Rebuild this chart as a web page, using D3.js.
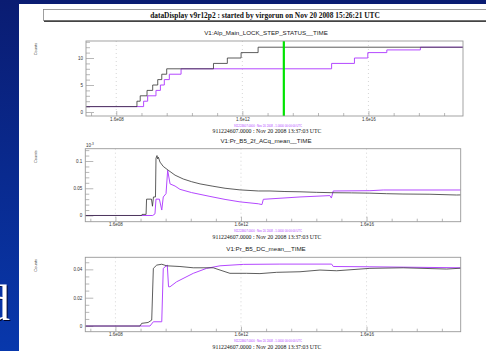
<!DOCTYPE html>
<html>
<head>
<meta charset="utf-8">
<script src="https://cdn.jsdelivr.net/npm/d3@7"></script>
<style>
  body { margin: 0; overflow: hidden; background: #fff; }
  svg { display: block; }
</style>
</head>
<body>
<script>
var W = 486, H = 351;

var mainTitle = "dataDisplay v9r12p2 : started by virgorun on Nov 20 2008 15:26:21 UTC";
var gpsLine = "911224607.0000 : Nov 20 2008 13:37:03 UTC";
var refLine = "911224607.0000 : Nov 20 2008 - 1.0000 00:00:00 UTC";

// x axis (shared by the three plots)
var xTicks = [0, 10, 20];
var xTickLabels = ["1.6e08", "1.6e12", "1.6e16"];
var xMinorTicks = [-2, 2, 4, 6, 8, 12, 14, 16, 18, 22, 24, 26];

// plot 1 : lock step status (steps)
var lockTitle = "V1:Alp_Main_LOCK_STEP_STATUS__TIME";
var lockYTicks = [0, 5, 10];
var lockYMinor = [1, 2, 3, 4, 6, 7, 8, 9, 11, 12, 13];
var lockBlack = [[-2.4, 1], [1.64, 2], [1.90, 3], [2.44, 4], [2.89, 5], [3.29, 6], [3.61, 7], [4.00, 8],
                 [7.71, 9], [8.81, 10], [9.90, 11], [11.25, 12], [27.5, 12]];
var lockPurple = [[-2.4, 1], [2.17, 2], [2.49, 3], [3.15, 4], [3.50, 5], [3.81, 6], [4.21, 7], [5.14, 8],
                  [17.08, 9], [18.89, 10], [19.95, 11], [21.46, 11.5], [24.12, 12], [27.5, 12]];
var lockMarker = 13.29;

// plot 2 : B5 2f ACq mean
var acqTitle = "V1:Pr_B5_2f_ACq_mean__TIME";
var acqYTicks = [0, 0.05, 0.1];
var acqYMinor = [0.01, 0.02, 0.03, 0.04, 0.06, 0.07, 0.08, 0.09, 0.11, 0.12];
var acqBlack = [[-2.4, 0], [2.09, 0], [2.12, 0.002], [2.44, 0.002], [2.48, 0.03], [2.87, 0.03], [2.95, 0.017],
                [3.03, 0.034], [3.19, 0.034], [3.23, 0.105], [3.31, 0.11], [3.36, 0.104], [3.42, 0.107],
                [3.55, 0.098], [3.81, 0.09], [4.21, 0.083], [4.75, 0.074], [5.4, 0.067], [6.07, 0.062],
                [6.74, 0.058], [7.7, 0.054], [8.73, 0.050], [9.92, 0.047], [11.38, 0.045], [12.31, 0.045],
                [13.5, 0.044], [14.70, 0.0435], [16.0, 0.0425], [17.32, 0.0418], [18.8, 0.0415],
                [20.27, 0.041], [21.6, 0.040], [22.90, 0.0394], [25.05, 0.039], [27.17, 0.0376], [27.5, 0.0378]];
var acqPurple = [[-2.4, 0], [2.97, 0], [3.15, 0.003], [3.23, 0.03], [3.50, 0.03], [3.69, 0.01], [3.81, 0.034],
                 [4.03, 0.04], [4.16, 0.083], [4.35, 0.058], [4.75, 0.054], [5.14, 0.048], [6.07, 0.042],
                 [7.53, 0.035], [8.73, 0.0295], [9.92, 0.025], [11.38, 0.0215], [11.67, 0.020],
                 [11.78, 0.0297], [14.70, 0.034], [17.08, 0.0365], [17.2, 0.032], [17.35, 0.045],
                 [20.27, 0.0455], [21.33, 0.0468], [27.5, 0.0468]];

// plot 3 : B5 DC mean
var dcTitle = "V1:Pr_B5_DC_mean__TIME";
var dcYTicks = [0, 0.02, 0.04];
var dcYMinor = [0.005, 0.01, 0.015, 0.025, 0.03, 0.035, 0.045];
var dcBlack = [[-2.4, 0], [1.96, 0], [2.09, 0.0019], [2.60, 0.0025], [2.89, 0.0042], [3.02, 0.0407],
               [3.29, 0.043], [3.69, 0.0436], [4.08, 0.0425], [5.14, 0.042], [6.20, 0.0411], [7.79, 0.0411],
               [8.33, 0.0395], [9.12, 0.0372], [10.45, 0.0372], [11.51, 0.0370], [12.84, 0.0379],
               [14.70, 0.0383], [16.29, 0.0395], [17.62, 0.039], [20.27, 0.0407], [22.92, 0.0411],
               [26.38, 0.0402], [27.5, 0.0408]];
var dcPurple = [[-2.4, 0], [2.75, 0], [3.02, 0.003], [3.69, 0.003], [3.81, 0.0407], [4.13, 0.043],
                [4.23, 0.0277], [4.35, 0.0277], [4.87, 0.0312], [6.20, 0.0372], [7.26, 0.0407],
                [8.33, 0.0425], [10.18, 0.0435], [13.10, 0.0437], [17.22, 0.0437], [17.35, 0.042],
                [20.27, 0.0418], [27.5, 0.0411]];

var panels = [
  {title: lockTitle, box: [86, 463, 41, 116], yDomain: [-0.74, 13.15], yTicks: lockYTicks, yMinor: lockYMinor,
   black: lockBlack, purple: lockPurple, step: true, marker: lockMarker},
  {title: acqTitle, box: [85.3, 460.7, 148.7, 221.7], yDomain: [-0.0114, 0.1226], yTicks: acqYTicks, yMinor: acqYMinor,
   black: acqBlack, purple: acqPurple, step: false, exponent: true},
  {title: dcTitle, box: [85.3, 460.7, 257.3, 331.7], yDomain: [-0.004, 0.0485], yTicks: dcYTicks, yMinor: dcYMinor,
   black: dcBlack, purple: dcPurple, step: false}
];

var svg = d3.select("body").append("svg")
    .attr("width", W)
    .attr("height", H);

// slide background
var defs = svg.append("defs");
var grad = defs.append("linearGradient").attr("id", "bg")
    .attr("x1", 0).attr("y1", 0).attr("x2", 0).attr("y2", 1);
grad.append("stop").attr("offset", "0%").attr("stop-color", "#0a1c72");
grad.append("stop").attr("offset", "100%").attr("stop-color", "#0838ac");
svg.append("rect").attr("width", W).attr("height", H).attr("fill", "url(#bg)");

// big letter cut by the screenshot, left edge
svg.append("text")
    .attr("x", -14).attr("y", 321)
    .attr("font-family", "Liberation Serif")
    .attr("font-size", 50)
    .attr("fill", "#00052a")
    .text("d");
svg.append("text")
    .attr("x", -15).attr("y", 320)
    .attr("font-family", "Liberation Serif")
    .attr("font-size", 50)
    .attr("fill", "#ffffff")
    .text("d");

// white display window
svg.append("rect").attr("x", 19).attr("y", 4).attr("width", W - 19).attr("height", H - 4).attr("fill", "#ffffff");

// title banner
svg.append("rect")
    .attr("x", 43.5).attr("y", 9.5).attr("width", 460).attr("height", 11)
    .attr("fill", "#fff").attr("stroke", "#888").attr("stroke-width", 0.8);
svg.append("line")
    .attr("x1", 44).attr("x2", W).attr("y1", 21.2).attr("y2", 21.2)
    .attr("stroke", "#444").attr("stroke-width", 1.4);
svg.append("text")
    .attr("x", 265).attr("y", 17.8)
    .attr("text-anchor", "middle")
    .attr("font-family", "Liberation Serif")
    .attr("font-weight", "bold")
    .attr("font-size", 7.4)
    .attr("fill", "#111")
    .text(mainTitle);

panels.forEach(function(p) {
    var x0 = p.box[0], x1 = p.box[1], y0 = p.box[2], y1 = p.box[3];
    var xScale = d3.scaleLinear().domain([-2.4, 27.5]).range([x0, x1]);
    var yScale = d3.scaleLinear().domain(p.yDomain).range([y1, y0]);
    var g = svg.append("g");

    // plot title
    g.append("text")
        .attr("x", 266).attr("y", y0 - 6)
        .attr("text-anchor", "middle")
        .attr("font-family", "Liberation Sans")
        .attr("font-size", 6.2)
        .attr("fill", "#222")
        .text(p.title);

    // y label
    g.append("text")
        .attr("transform", "translate(37," + (y0 + 8) + ") rotate(-90)")
        .attr("text-anchor", "middle")
        .attr("font-family", "Liberation Sans")
        .attr("font-size", 4)
        .attr("fill", "#444")
        .text("Counts");

    if (p.exponent) {
        var ex = g.append("text")
            .attr("x", 86).attr("y", y0 - 1.5)
            .attr("font-family", "Liberation Sans")
            .attr("font-size", 4.5)
            .attr("fill", "#333");
        ex.append("tspan").text("10");
        ex.append("tspan").attr("dy", -2).attr("font-size", 3.2).text("-3");
    }

    // dotted grid at the major x ticks
    g.selectAll(".grid").data(xTicks).enter().append("line")
        .attr("x1", function(d) { return xScale(d); })
        .attr("x2", function(d) { return xScale(d); })
        .attr("y1", y0).attr("y2", y1)
        .attr("stroke", "#bbb").attr("stroke-width", 0.6)
        .attr("stroke-dasharray", "1,3");

    // axes, ticks pointing inward
    var yMinorAxis = d3.axisLeft(yScale).tickValues(p.yMinor).tickSize(-4).tickFormat("");
    var yAxis = d3.axisLeft(yScale).tickValues(p.yTicks).tickSize(-8).tickPadding(3)
        .tickFormat(function(d) { return String(d); });
    var xMinorAxis = d3.axisBottom(xScale).tickValues(xMinorTicks).tickSize(-3).tickFormat("");
    var xAxis = d3.axisBottom(xScale).tickValues(xTicks).tickSize(-5).tickPadding(1.5)
        .tickFormat(function(d, i) { return xTickLabels[i]; });

    [yMinorAxis, yAxis].forEach(function(ax) {
        g.append("g").attr("transform", "translate(" + x0 + ",0)").call(ax);
    });
    [xMinorAxis, xAxis].forEach(function(ax) {
        g.append("g").attr("transform", "translate(0," + y1 + ")").call(ax);
    });
    g.selectAll(".domain").remove();
    g.selectAll(".tick line").attr("stroke", "#999").attr("stroke-width", 0.7);
    g.selectAll(".tick text")
        .attr("font-family", "Liberation Sans")
        .attr("font-size", 4.5)
        .attr("fill", "#333");

    // lines
    var line = d3.line()
        .x(function(d) { return xScale(d[0]); })
        .y(function(d) { return yScale(d[1]); })
        .curve(p.step ? d3.curveStepAfter : d3.curveLinear);

    g.append("path").datum(p.purple)
        .attr("d", line)
        .attr("fill", "none").attr("stroke", "#b448ff").attr("stroke-width", 1);
    g.append("path").datum(p.black)
        .attr("d", line)
        .attr("fill", "none").attr("stroke", "#333").attr("stroke-width", 0.8);

    if (p.marker !== undefined) {
        g.append("line")
            .attr("x1", xScale(p.marker)).attr("x2", xScale(p.marker))
            .attr("y1", y0).attr("y2", y1)
            .attr("stroke", "#00e400").attr("stroke-width", 2.2);
    }

    // frame
    g.append("rect")
        .attr("x", x0).attr("y", y0)
        .attr("width", x1 - x0).attr("height", y1 - y0)
        .attr("fill", "none").attr("stroke", "#999").attr("stroke-width", 0.9);

    // time reference lines under the plot
    g.append("text")
        .attr("x", 268).attr("y", y1 + 10.5)
        .attr("text-anchor", "middle")
        .attr("font-family", "Liberation Sans")
        .attr("font-size", 2.8)
        .attr("fill", "#b448ff")
        .text(refLine);
    g.append("text")
        .attr("x", 267).attr("y", y1 + 16.8)
        .attr("text-anchor", "middle")
        .attr("font-family", "Liberation Serif")
        .attr("font-size", 5.8)
        .attr("fill", "#111")
        .text(gpsLine);
});
</script>
</body>
</html>
